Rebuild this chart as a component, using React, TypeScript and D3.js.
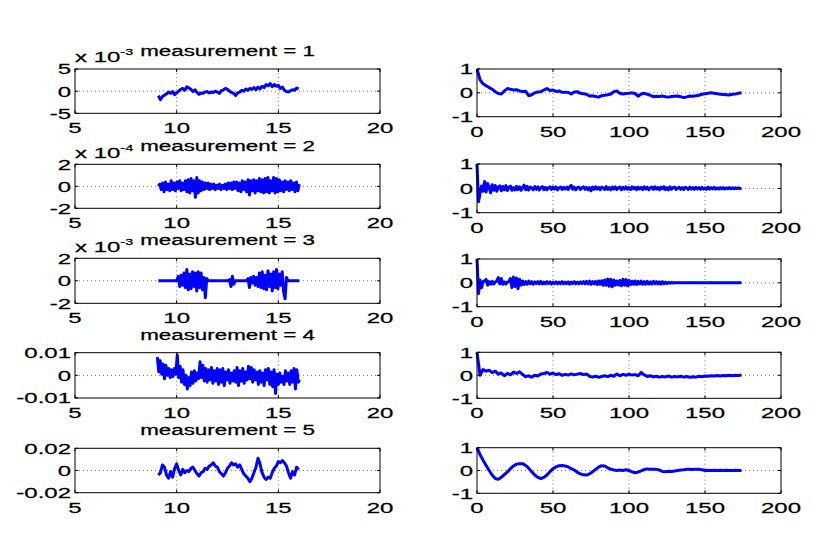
import * as d3 from "d3";

const W = 830;
const H = 554;
const FONT = "'Liberation Sans', Arial, Helvetica, sans-serif";
const SX = 1.6; // figure was exported stretched sideways, text follows it

// ---------- data ----------
const measurements = [1, 2, 3, 4, 5];

const leftXTicks = [5, 10, 15, 20];
const leftXLabels = ["5", "10", "15", "20"];
const leftYTicks = [
  [-5e-3, 0, 5e-3],
  [-2e-4, 0, 2e-4],
  [-2e-3, 0, 2e-3],
  [-0.01, 0, 0.01],
  [-0.02, 0, 0.02],
];
const leftYLabels = [
  ["-5", "0", "5"],
  ["-2", "0", "2"],
  ["-2", "0", "2"],
  ["-0.01", "0", "0.01"],
  ["-0.02", "0", "0.02"],
];
const leftExponent = ["-3", "-4", "-3", "", ""];
const leftUnit = [1e-3, 1e-4, 1e-3, 1e-3, 1e-3];
const leftStart = [9.1, 9.1, 9.1, 9.05, 9.1];
const leftStep = [0.1, 0.07, 0.07, 0.07, 0.1];

const rightXTicks = [0, 50, 100, 150, 200];
const rightYTicks = [-1, 0, 1];
const rightYLabels = ["-1", "0", "1"];
const lagStep = [2, 1, 1, 2, 2];

// residuals (in units of leftUnit)
const resid1 = [
  -1.0, -1.9, -1.2, -0.9, -0.6, -0.2, -0.5, -0.1, -0.8, -0.4,
  0.0, 0.4, 0.6, 0.2, 1.0, 0.7, 0.4, -0.1, 0.3, -0.3,
  -0.7, -0.4, -0.5, -0.2, -0.1, -0.4, -0.2, -0.3, 0.0, -0.2,
  -0.5, 0.1, 0.3, 0.6, 0.4, 0.0, -0.3, -0.5, -1.0, -0.4,
  -0.2, 0.2, 0.0, 0.5, 0.2, 0.6, 0.4, 0.8, 0.3, 0.9,
  0.5, 1.1, 0.8, 1.5, 1.2, 1.7, 1.0, 1.5, 1.1, 1.3,
  0.6, 0.9, 0.2, -0.1, -0.2, 0.1, 0.3, 0.2, 0.7, 0.5,
];
const resid2 = [
  0.0, 0.2, -0.3, 0.3, -0.5, 0.4, -0.3, 0.2, -0.4, 0.5,
  -0.3, 0.3, -0.4, 0.4, -0.2, 0.5, -0.4, 0.3, -0.3, 0.5,
  -0.5, 0.6, -0.6, 0.7, -0.4, 0.5, -1.0, 0.8, -0.6, 0.5,
  -0.4, 0.4, -0.3, 0.3, -0.2, 0.3, -0.3, 0.2, -0.2, 0.2,
  -0.3, 0.1, -0.2, 0.2, -0.3, 0.1, -0.2, 0.2, -0.3, 0.3,
  -0.2, 0.3, -0.3, 0.4, -0.2, 0.4, -0.4, 0.3, -0.5, 0.5,
  -0.3, 0.4, -0.5, 0.6, -0.8, 0.5, -0.4, 0.6, -0.6, 0.5,
  -0.4, 0.7, -0.5, 0.6, -0.6, 0.7, -0.5, 0.8, -0.6, 0.5,
  -0.4, 0.8, -0.6, 0.7, -0.5, 0.6, -0.4, 0.4, -0.5, 0.5,
  -0.3, 0.4, -0.4, 0.5, -0.3, 0.3, -0.5, 0.4, -0.4, 0.2,
];
const resid3 = [
  0, 0, 0, 0, 0, 0, 0, 0, 0, 0, 0, 0, 0,
  0.05, 0.4, -0.5, 0.5, -0.4, 0.7, -0.6, 1.0, -0.8, 0.6, -0.7, 0.8,
  -0.5, 0.7, -0.9, 0.8, -0.6, 0.7, -0.8, 0.3, -1.5, 0.2,
  0, 0, 0, 0, 0, 0, 0, 0, 0, 0, 0, 0, 0, 0, 0,
  0.1, -0.5, 0.4, -0.3,
  0, 0, 0, 0, 0, 0, 0, 0, 0,
  0.2, -0.6, 0.3, -0.2, 0.4, -0.4, 0.3, -0.5, 0.7, -0.6, 0.8, -0.7,
  0.5, -0.8, 0.9, -0.5, 0.6, -0.9, 0.8, -0.6, 1.0, -0.7, 0.6, -0.4,
  0.8, -1.0, -1.6, 0.3,
  0, 0, 0, 0, 0, 0, 0, 0, 0,
];
const resid4 = [
  8.0, 1.5, 6.5, 0.5, 5.0, -1.5, 4.5, 0.0, 3.0, -1.0,
  2.5, -0.5, 3.0, 0.5, 9.0, -1.0, 4.0, -3.0, 2.5, -4.0,
  0.0, -6.0, -1.0, -4.5, 1.5, -3.5, 2.0, -2.5, 1.0, -1.5,
  6.0, -1.0, 4.5, -2.5, 3.0, -3.0, 2.5, -2.0, 3.5, -3.5,
  2.0, -2.5, 3.0, -4.0, 2.5, -3.0, 3.0, -4.5, 1.5, -2.0,
  2.5, -3.5, 1.0, -2.5, 2.0, -3.0, 3.5, -4.5, 2.0, -2.5,
  3.0, -3.5, 1.5, -2.0, 4.0, -1.5, 3.5, -3.0, 2.5, -2.0,
  1.5, -4.0, 2.0, -3.0, 1.0, -4.5, 2.5, -2.0, 3.0, -4.0,
  1.5, -5.0, 2.5, -8.0, 0.5, -4.0, 1.0, -3.0, -0.5, -4.0,
  2.0, -2.5, 1.0, -4.0, 2.0, -3.0, 3.0, -6.0, 2.5, -3.0,
  -2.0,
];
const resid5 = [
  -4, -2, 5, 3, -4, -7, -1, -6, 2, 6,
  0, -4, 1, -2, 0, -1, 2, 3, 0, -3,
  -5, -2, -1, 2, 1, 4, 5, 7, 4, 3,
  -1, -3, -5, -2, 2, 4, 7, 5, 6, 3,
  5, 1, -3, -5, -7, -10, -7, -2, 3, 11,
  6, -2, -6, -8, -6, -7, -2, 2, 4, 8,
  7, 9, 7, 4, -2, -7, -1, -4, 3, 1,
];

// autocorrelations (acf1, acf4, acf5 every 2nd lag; acf2, acf3 every lag)
const acf1 = [
  1.0, 0.55, 0.38, 0.3, 0.22, 0.15, 0.05, -0.03, -0.05, 0.08, 0.18,
  0.15, 0.12, 0.13, 0.08, 0.06, 0.07, -0.12, -0.08, 0.0, 0.04, 0.05,
  0.12, 0.18, 0.1, 0.12, 0.06, 0.08, 0.02, 0.03, 0.02, -0.05, 0.04,
  0.05, -0.02, -0.04, -0.06, -0.13, -0.12, -0.15, -0.18, -0.12, -0.1, -0.08,
  -0.05, 0.05, 0.08, -0.02, -0.05, -0.03, -0.02, 0.0, -0.03, -0.14, -0.05,
  -0.02, -0.06, -0.1, -0.16, -0.14, -0.15, -0.13, -0.16, -0.18, -0.15, -0.14,
  -0.13, -0.16, -0.2, -0.17, -0.13, -0.14, -0.12, -0.1, -0.06, -0.04, -0.02,
  0.0, -0.02, -0.04, -0.06, -0.07, -0.08, -0.09, -0.06, -0.05, -0.02, 0.0,
];
const acf2 = [
  1.0, -0.55, -0.2, 0.1, -0.12, 0.28, -0.15, 0.2, 0.04, -0.18,
  0.15, -0.08, 0.12, -0.12, 0.06, 0.1, -0.1, 0.08, -0.06, 0.11,
  -0.09, 0.05, 0.09, -0.08, 0.03, -0.07, 0.08, -0.05, 0.06, -0.08,
  0.04, 0.13, -0.06, 0.08, -0.07, 0.05, 0.02, -0.06, 0.07, -0.04,
  0.06, -0.07, 0.03, 0.07, -0.05, 0.04, -0.06, 0.02, 0.06, -0.05,
  0.05, -0.03, 0.06, -0.06, 0.02, 0.05, -0.05, 0.04, -0.02, 0.05,
  -0.05, 0.06, 0.12, -0.04, 0.05, -0.06, 0.03, 0.05, -0.05, 0.02,
  0.06, -0.04, 0.04, -0.06, 0.03, -0.1, 0.05, -0.04, 0.06, -0.03,
  0.04, -0.06, 0.05, 0.02, -0.05, 0.07, -0.04, 0.03, -0.06, 0.05,
  -0.03, 0.06, -0.05, 0.02, 0.05, -0.06, 0.04, -0.03, 0.06, -0.04,
  0.03, -0.05, 0.06, -0.02, 0.04, -0.06, 0.05, -0.03, 0.04, -0.05,
  0.06, -0.03, 0.05, -0.06, 0.02, 0.05, -0.04, 0.06, -0.03, 0.04,
  -0.06, 0.05, -0.02, 0.07, -0.05, 0.03, -0.06, 0.06, -0.04, 0.03,
  0.05, -0.05, 0.02, 0.04, -0.04, 0.03, -0.05, 0.04, 0.02, -0.04,
  0.05, -0.03, 0.03, -0.04, 0.04, -0.02, 0.03, -0.04, 0.04, -0.03,
  0.02, -0.04, 0.05, -0.03, 0.03, -0.02, 0.04, -0.03, 0.02, -0.03,
  0.03, -0.02, 0.03, -0.03, 0.02, -0.02, 0.03, -0.02, 0.02, -0.02,
  0.02, -0.01, 0.02, -0.01, 0.01,
];
const acf3 = [
  1.0, -0.45, 0.12, -0.2, 0.05, 0.08, 0.15, -0.1, 0.05, -0.06,
  0.06, -0.05, 0.04, 0.08, 0.22, -0.04, 0.18, -0.06, 0.04, -0.05,
  0.03, 0.06, 0.18, -0.2, 0.24, -0.15, 0.2, -0.25, 0.15, -0.1,
  0.08, -0.07, 0.05, -0.06, 0.07, -0.04, 0.05, -0.06, 0.04, -0.03,
  0.05, -0.04, 0.06, -0.05, 0.03, -0.04, 0.05, -0.03, 0.04, -0.05,
  0.03, -0.03, 0.04, -0.04, 0.03, -0.03, 0.05, -0.04, 0.03, -0.03,
  0.04, -0.05, 0.03, -0.03, 0.05, -0.04, 0.03, -0.04, 0.04, -0.03,
  0.05, -0.04, 0.06, -0.05, 0.07, -0.06, 0.05, -0.04, 0.06, -0.07,
  0.08, -0.06, 0.09, -0.1, 0.12, -0.1, 0.16, -0.14, 0.15, -0.16,
  0.12, -0.1, 0.08, -0.09, 0.1, -0.12, 0.15, -0.1, 0.14, -0.12,
  0.1, -0.08, 0.07, -0.06, 0.08, -0.07, 0.06, -0.05, 0.07, -0.06,
  0.05, -0.06, 0.06, -0.05, 0.04, -0.05, 0.06, -0.04, 0.05, -0.05,
  0.04, -0.05, 0.05, -0.04, 0.03, -0.03, 0.02, -0.02, 0.02, -0.01,
  0.01, 0, 0.01, 0, 0.01, 0, 0.01, 0, 0.01, 0,
  0.01, 0, 0.01, 0, 0.01, 0, 0.01, 0, 0.01, 0,
  0.01, 0, 0.01, 0, 0.01, 0, 0.01, 0, 0.01, 0,
  0.01, 0, 0.01, 0, 0.01, 0, 0.01, 0, 0.01, 0,
  0.01, 0, 0.01, 0, 0.01,
];
const acf4 = [
  1.0, 0.0, 0.25, 0.18, 0.22, 0.12, 0.18, 0.05, 0.1, -0.02, 0.08,
  0.02, 0.14, 0.08, 0.15, 0.04, -0.06,
  -0.02, -0.08, 0.0, -0.03, 0.06, 0.08,
  0.12, 0.05, 0.1, 0.03, 0.07, 0.0,
  0.04, 0.01, 0.06, 0.02, 0.05, 0.08,
  0.03, 0.06, -0.04, -0.08, -0.04, -0.09,
  -0.05, -0.02, -0.06, 0.0, -0.04, 0.06,
  -0.02, 0.04, 0.0, 0.05, 0.01, 0.03,
  -0.02, 0.12, 0.02, -0.05, -0.02, -0.07,
  -0.04, -0.08, -0.05, -0.07, -0.03, -0.08,
  -0.05, -0.07, -0.04, -0.08, -0.05, -0.09,
  -0.06, -0.08, -0.04, -0.06, -0.03, -0.04,
  -0.02, -0.03, -0.01, -0.03, -0.01, -0.02,
  0.0, -0.02, 0.0, -0.01, 0.01,
];
const acf5 = [
  1.0, 0.7, 0.45, 0.22, 0.0, -0.2, -0.35, -0.38, -0.3, -0.18, -0.06,
  0.08, 0.2, 0.28, 0.3, 0.3, 0.22,
  0.1, -0.05, -0.2, -0.3, -0.35, -0.3,
  -0.2, -0.05, 0.08, 0.16, 0.21, 0.22,
  0.2, 0.16, 0.08, 0.02, -0.08, -0.15,
  -0.19, -0.2, -0.15, -0.06, 0.05, 0.15,
  0.21, 0.2, 0.12, 0.06, 0.02, 0.0,
  0.02, 0.0, 0.03, 0.0, -0.06, -0.1,
  -0.07, -0.02, 0.04, 0.07, 0.06, 0.06,
  0.05, 0.02, -0.04, -0.05, -0.03, -0.04,
  -0.02, 0.0, 0.02, 0.03, 0.05, 0.05,
  0.04, 0.06, 0.05, 0.03, 0.0, 0.01,
  0.0, 0.01, 0.0, 0.01, 0.0, 0.01,
  0.0, 0.0, 0.01, 0.0, 0.0,
];

const residuals = [resid1, resid2, resid3, resid4, resid5];
const acfs = [acf1, acf2, acf3, acf4, acf5];

// ---------- layout (measured) ----------
const leftBox = { x0: 75, x1: 380 };
const rightBox = { x0: 477, x1: 781 };
const leftRows = [
  [69, 113.3],
  [164.3, 208.3],
  [258.3, 303.3],
  [352.7, 398],
  [448.3, 492.7],
];
const rightRows = [
  [69, 116.7],
  [164, 212.7],
  [259, 306.7],
  [352.3, 398.3],
  [447.7, 493.3],
];

function Txt(props: {
  x: number;
  y: number;
  size: number;
  anchor?: string;
  children: any;
}) {
  return (
    <text
      transform={`translate(${props.x},${props.y}) scale(${SX},1)`}
      fontSize={props.size}
      fontFamily={FONT}
      textAnchor={props.anchor ?? "start"}
      fill="#000"
      stroke="#000"
      strokeWidth={0.25}
    >
      {props.children}
    </text>
  );
}

function Panel(props: {
  x0: number;
  x1: number;
  y0: number;
  y1: number;
  xDomain: [number, number];
  yDomain: [number, number];
  xTicks: number[];
  xLabels: string[];
  yTicks: number[];
  yLabels: string[];
  points: [number, number][];
}) {
  const { x0, x1, y0, y1 } = props;
  const x = d3.scaleLinear().domain(props.xDomain).range([x0, x1]);
  const y = d3.scaleLinear().domain(props.yDomain).range([y1, y0]);
  const line = d3
    .line<[number, number]>()
    .x((d) => x(d[0]))
    .y((d) => y(d[1]));
  const tick = 3;

  return (
    <g>
      <rect x={x0} y={y0} width={x1 - x0} height={y1 - y0} fill="#fff" />
      {props.xTicks.slice(1, -1).map((t) => (
        <line
          key={"gx" + t}
          x1={x(t)}
          x2={x(t)}
          y1={y0}
          y2={y1}
          stroke="#777"
          strokeWidth={1}
          strokeDasharray="1 3"
        />
      ))}
      {props.yTicks.slice(1, -1).map((t) => (
        <line
          key={"gy" + t}
          x1={x0}
          x2={x1}
          y1={y(t)}
          y2={y(t)}
          stroke="#777"
          strokeWidth={1}
          strokeDasharray="1 3"
        />
      ))}
      <path
        d={line(props.points) ?? ""}
        fill="none"
        stroke="#0000ff"
        strokeWidth={3}
        strokeLinejoin="round"
      />
      <rect
        x={x0}
        y={y0}
        width={x1 - x0}
        height={y1 - y0}
        fill="none"
        stroke="#000"
        strokeWidth={1}
      />
      {props.xTicks.map((t) => (
        <g key={"tx" + t}>
          <line x1={x(t)} x2={x(t)} y1={y1} y2={y1 - tick} stroke="#000" />
          <line x1={x(t)} x2={x(t)} y1={y0} y2={y0 + tick} stroke="#000" />
        </g>
      ))}
      {props.yTicks.map((t) => (
        <g key={"ty" + t}>
          <line x1={x0} x2={x0 + tick} y1={y(t)} y2={y(t)} stroke="#000" />
          <line x1={x1} x2={x1 - tick} y1={y(t)} y2={y(t)} stroke="#000" />
        </g>
      ))}
      {props.xTicks.map((t, i) => (
        <Txt key={"lx" + t} x={x(t)} y={y1 + 20} size={15} anchor="middle">
          {props.xLabels[i]}
        </Txt>
      ))}
      {props.yTicks.map((t, i) => (
        <Txt key={"ly" + t} x={x0 - 4} y={y(t) + 5.4} size={15} anchor="end">
          {props.yLabels[i]}
        </Txt>
      ))}
    </g>
  );
}

export default function App() {
  return (
    <div style={{ position: "absolute", left: 0, top: 0, width: W, height: H }}>
      <svg width={W} height={H} style={{ display: "block", background: "#fff" }}>
        {measurements.map((m, r) => {
          const [ly0, ly1] = leftRows[r];
          const [ry0, ry1] = rightRows[r];
          const unit = leftUnit[r];
          const lpts = residuals[r].map(
            (v, i) => [leftStart[r] + i * leftStep[r], v * unit] as [number, number],
          );
          const rpts = acfs[r].map(
            (v, i) => [i * lagStep[r], v] as [number, number],
          );
          const yt = leftYTicks[r];
          return (
            <g key={m}>
              <Panel
                x0={leftBox.x0}
                x1={leftBox.x1}
                y0={ly0}
                y1={ly1}
                xDomain={[5, 20]}
                yDomain={[yt[0], yt[yt.length - 1]]}
                xTicks={leftXTicks}
                xLabels={leftXLabels}
                yTicks={yt}
                yLabels={leftYLabels[r]}
                points={lpts}
              />
              <Panel
                x0={rightBox.x0}
                x1={rightBox.x1}
                y0={ry0}
                y1={ry1}
                xDomain={[0, 200]}
                yDomain={[-1, 1]}
                xTicks={rightXTicks}
                xLabels={rightXTicks.map(String)}
                yTicks={rightYTicks}
                yLabels={rightYLabels}
                points={rpts}
              />
              <Txt
                x={(leftBox.x0 + leftBox.x1) / 2}
                y={ly0 - 13}
                size={14}
                anchor="middle"
              >
                {`measurement = ${m}`}
              </Txt>
              {leftExponent[r] && (
                <Txt x={leftBox.x0} y={ly0 - 6.7} size={15}>
                  x 10
                  <tspan fontSize={9} dy={-7}>
                    {leftExponent[r]}
                  </tspan>
                </Txt>
              )}
            </g>
          );
        })}
      </svg>
    </div>
  );
}
